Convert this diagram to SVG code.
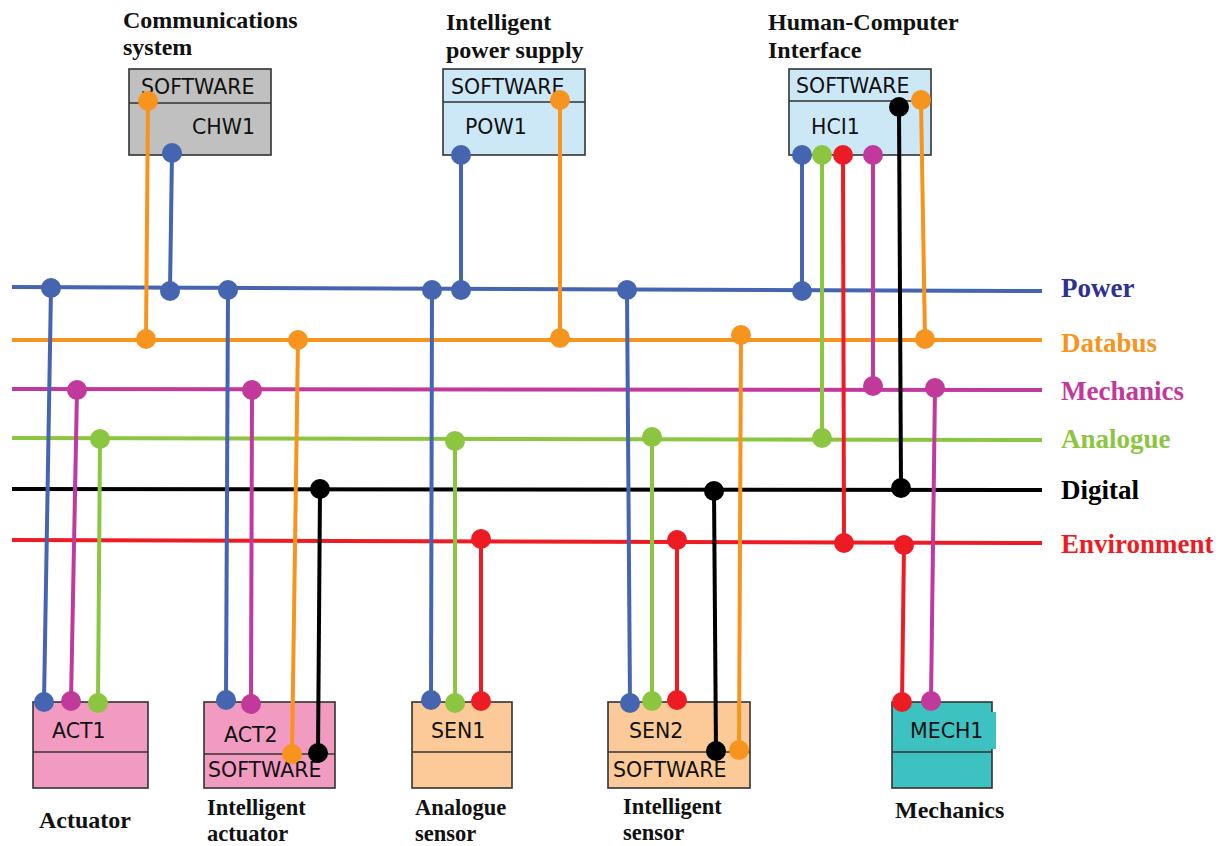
<svg xmlns="http://www.w3.org/2000/svg" width="1226" height="846" viewBox="0 0 1226 846">
<style>
.box{stroke:#333;stroke-width:1.6}
.div{stroke:#333;stroke-width:1.6;fill:none}
.nt{font-family:"DejaVu Sans",sans-serif;font-size:20.5px;fill:#111}
.tt{font-family:"Liberation Serif",serif;font-weight:bold;font-size:24px;fill:#111}
.ts{font-family:"Liberation Serif",serif;font-weight:bold;font-size:22.5px;fill:#111}
.bl{font-family:"Liberation Serif",serif;font-weight:bold;font-size:27px}
.w{stroke-width:4;fill:none}
.b{stroke:#4565b0}.bf{fill:#4565b0}
.o{stroke:#f7941d}.of{fill:#f7941d}
.m{stroke:#c0399b}.mf{fill:#c0399b}
.g{stroke:#8cc540}.gf{fill:#8cc540}
.k{stroke:#000}.kf{fill:#000}
.r{stroke:#ed1c24}.rf{fill:#ed1c24}
</style>
<rect width="1226" height="846" fill="#fff"/>
<g id="buses">
<line class="w b" x1="12" y1="287" x2="1042" y2="291"/>
<line class="w o" x1="12" y1="340" x2="1042" y2="340"/>
<line class="w m" x1="12" y1="389" x2="1042" y2="390"/>
<line class="w g" x1="12" y1="438" x2="1042" y2="440"/>
<line class="w k" x1="12" y1="489" x2="1042" y2="490"/>
<line class="w r" x1="12" y1="540" x2="1042" y2="543"/>
<text class="bl" x="1061" y="297" fill="#2e3192">Power</text>
<text class="bl" x="1061" y="352" fill="#f7941d">Databus</text>
<text class="bl" x="1061" y="400" fill="#c0399b">Mechanics</text>
<text class="bl" x="1061" y="448" fill="#8cc540">Analogue</text>
<text class="bl" x="1061" y="499" fill="#000">Digital</text>
<text class="bl" x="1061" y="553" fill="#ed1c24">Environment</text>
</g>
<g id="CHW1">
<rect class="box" x="129" y="69" width="142" height="86" fill="#c0c0c0"/>
<line class="div" x1="129" y1="103" x2="271" y2="103"/>
<text class="nt" x="141" y="94">SOFTWARE</text>
<text class="nt" x="192" y="134">CHW1</text>
<text class="tt" x="123" y="28">Communications</text>
<text class="tt" x="123" y="55">system</text>
</g>
<g id="POW1">
<rect class="box" x="443" y="69" width="142" height="86" fill="#cce8f7"/>
<line class="div" x1="443" y1="102" x2="585" y2="102"/>
<text class="nt" x="451" y="94">SOFTWARE</text>
<text class="nt" x="465" y="134">POW1</text>
<text class="tt" x="446" y="30">Intelligent</text>
<text class="tt" x="446" y="58">power supply</text>
</g>
<g id="HCI1">
<rect class="box" x="789" y="69" width="142" height="86" fill="#cce8f7"/>
<line class="div" x1="789" y1="101" x2="931" y2="101"/>
<text class="nt" x="796" y="93">SOFTWARE</text>
<text class="nt" x="811" y="134">HCI1</text>
<text class="tt" x="768" y="30">Human-Computer</text>
<text class="tt" x="768" y="58">Interface</text>
</g>
<g id="ACT1">
<rect class="box" x="33" y="702" width="115" height="86" fill="#f29bc1"/>
<line class="div" x1="33" y1="752" x2="148" y2="752"/>
<text class="nt" x="52" y="738">ACT1</text>
<text class="tt" x="39" y="828">Actuator</text>
</g>
<g id="ACT2">
<rect class="box" x="204" y="702" width="131" height="86" fill="#f29bc1"/>
<line class="div" x1="204" y1="754" x2="335" y2="754"/>
<text class="nt" x="224" y="742">ACT2</text>
<text class="nt" x="208" y="777">SOFTWARE</text>
<text class="ts" x="207" y="815">Intelligent</text>
<text class="ts" x="207" y="841">actuator</text>
</g>
<g id="SEN1">
<rect class="box" x="412" y="702" width="100" height="86" fill="#fbca98"/>
<line class="div" x1="412" y1="752" x2="512" y2="752"/>
<text class="nt" x="431" y="738">SEN1</text>
<text class="ts" x="415" y="815">Analogue</text>
<text class="ts" x="415" y="841">sensor</text>
</g>
<g id="SEN2">
<rect class="box" x="608" y="702" width="142" height="86" fill="#fbca98"/>
<line class="div" x1="608" y1="752" x2="750" y2="752"/>
<text class="nt" x="629" y="738">SEN2</text>
<text class="nt" x="613" y="777">SOFTWARE</text>
<text class="ts" x="623" y="814">Intelligent</text>
<text class="ts" x="623" y="840">sensor</text>
</g>
<g id="MECH1">
<rect class="box" x="892" y="702" width="100" height="86" fill="#3dc1c1"/>
<line class="div" x1="892" y1="752" x2="992" y2="752"/>
<rect x="893" y="712" width="103" height="37" fill="#3dc1c1"/>
<text class="nt" x="910" y="738">MECH1</text>
<text class="tt" x="895" y="818">Mechanics</text>
</g>
<g id="connectors">
<line class="w o" x1="148" y1="101" x2="146" y2="339"/>
<line class="w b" x1="172" y1="153" x2="170" y2="291"/>
<line class="w b" x1="461" y1="155" x2="461" y2="290"/>
<line class="w o" x1="560" y1="100" x2="560" y2="338"/>
<line class="w b" x1="802" y1="155" x2="802" y2="291"/>
<line class="w g" x1="822" y1="155" x2="822" y2="438"/>
<line class="w r" x1="843" y1="155" x2="844" y2="543"/>
<line class="w m" x1="873" y1="155" x2="873" y2="386"/>
<line class="w k" x1="899" y1="107" x2="901" y2="488"/>
<line class="w o" x1="921" y1="100" x2="925" y2="339"/>
<line class="w b" x1="51" y1="288" x2="44" y2="702"/>
<line class="w m" x1="77" y1="390" x2="71" y2="701"/>
<line class="w g" x1="100" y1="439" x2="98" y2="703"/>
<line class="w b" x1="228" y1="290" x2="226" y2="700"/>
<line class="w m" x1="252" y1="390" x2="251" y2="704"/>
<line class="w o" x1="298" y1="340" x2="292" y2="754"/>
<line class="w k" x1="320" y1="489" x2="318" y2="753"/>
<line class="w b" x1="432" y1="290" x2="431" y2="700"/>
<line class="w g" x1="455" y1="441" x2="455" y2="703"/>
<line class="w r" x1="481" y1="539" x2="481" y2="701"/>
<line class="w b" x1="627" y1="290" x2="630" y2="703"/>
<line class="w g" x1="652" y1="437" x2="652" y2="701"/>
<line class="w r" x1="677" y1="540" x2="677" y2="700"/>
<line class="w k" x1="714" y1="491" x2="716" y2="751"/>
<line class="w o" x1="741" y1="335" x2="739" y2="750"/>
<line class="w r" x1="904" y1="545" x2="902" y2="702"/>
<line class="w m" x1="935" y1="388" x2="931" y2="701"/>
<g class="bf">
<circle cx="172" cy="153" r="10"/><circle cx="170" cy="291" r="10"/>
<circle cx="461" cy="155" r="10"/><circle cx="461" cy="290" r="10"/>
<circle cx="802" cy="155" r="10"/><circle cx="802" cy="291" r="10"/>
<circle cx="51" cy="288" r="10"/><circle cx="44" cy="702" r="10"/>
<circle cx="228" cy="290" r="10"/><circle cx="226" cy="700" r="10"/>
<circle cx="432" cy="290" r="10"/><circle cx="431" cy="700" r="10"/>
<circle cx="627" cy="290" r="10"/><circle cx="630" cy="703" r="10"/>
</g>
<g class="of">
<circle cx="148" cy="101" r="10"/><circle cx="146" cy="339" r="10"/>
<circle cx="560" cy="100" r="10"/><circle cx="560" cy="338" r="10"/>
<circle cx="921" cy="100" r="10"/><circle cx="925" cy="339" r="10"/>
<circle cx="298" cy="340" r="10"/><circle cx="292" cy="754" r="10"/>
<circle cx="741" cy="335" r="10"/><circle cx="739" cy="750" r="10"/>
</g>
<g class="mf">
<circle cx="873" cy="155" r="10"/><circle cx="873" cy="386" r="10"/>
<circle cx="77" cy="390" r="10"/><circle cx="71" cy="701" r="10"/>
<circle cx="252" cy="390" r="10"/><circle cx="251" cy="704" r="10"/>
<circle cx="935" cy="388" r="10"/><circle cx="931" cy="701" r="10"/>
</g>
<g class="gf">
<circle cx="822" cy="155" r="10"/><circle cx="822" cy="438" r="10"/>
<circle cx="100" cy="439" r="10"/><circle cx="98" cy="703" r="10"/>
<circle cx="455" cy="441" r="10"/><circle cx="455" cy="703" r="10"/>
<circle cx="652" cy="437" r="10"/><circle cx="652" cy="701" r="10"/>
</g>
<g class="kf">
<circle cx="899" cy="107" r="10"/><circle cx="901" cy="488" r="10"/>
<circle cx="320" cy="489" r="10"/><circle cx="318" cy="753" r="10"/>
<circle cx="714" cy="491" r="10"/><circle cx="716" cy="751" r="10"/>
</g>
<g class="rf">
<circle cx="843" cy="155" r="10"/><circle cx="844" cy="543" r="10"/>
<circle cx="481" cy="539" r="10"/><circle cx="481" cy="701" r="10"/>
<circle cx="677" cy="540" r="10"/><circle cx="677" cy="700" r="10"/>
<circle cx="904" cy="545" r="10"/><circle cx="902" cy="702" r="10"/>
</g>
</g>
</svg>
